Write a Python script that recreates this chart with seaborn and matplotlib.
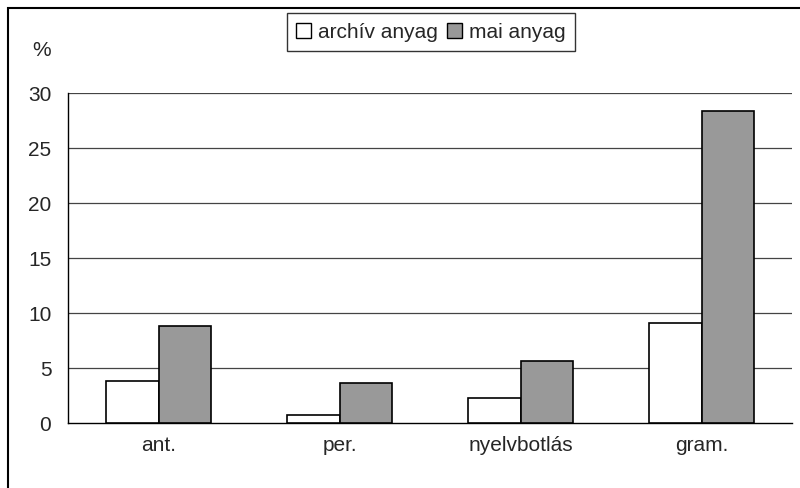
import matplotlib
matplotlib.use("Agg")
import matplotlib.pyplot as plt
import seaborn as sns
import pandas as pd
from matplotlib.patches import Patch, Rectangle

categories = ["ant.", "per.", "nyelvbotlás", "gram."]
series_names = ["archív anyag", "mai anyag"]
archiv = [3.8, 0.7, 2.3, 9.1]
mai = [8.8, 3.6, 5.6, 28.4]
yticks = [0, 5, 10, 15, 20, 25, 30]

df = pd.DataFrame({
    "cat": categories * 2,
    "val": archiv + mai,
    "series": [series_names[0]] * 4 + [series_names[1]] * 4,
})

sns.set_theme(style="white")
plt.rcParams["font.family"] = ["Liberation Sans", "DejaVu Sans"]
FS = 15

fig = plt.figure(figsize=(8, 4.89), dpi=100)
ax = fig.add_axes([68/800, 1-424/489, (792-68)/800, (424-94)/489])

colors = ["#ffffff", "#999999"]
sns.barplot(data=df, x="cat", y="val", hue="series", order=categories,
            hue_order=series_names, palette=colors, edgecolor="black",
            linewidth=1.2, width=0.58, gap=0, ax=ax, legend=False, zorder=3)

ax.set_ylim(0, 30)
ax.set_xlim(-0.5, 3.5)
ax.set_yticks(yticks)
ax.set_yticklabels([str(t) for t in yticks], fontsize=FS)
for t in yticks[1:]:
    ax.axhline(t, color="#444444", lw=0.9, zorder=1)

ax.set_xticks([-0.5, 0.5, 1.5, 2.5, 3.5])
ax.set_xticklabels([])
ax.set_xticks(range(len(categories)), minor=True)
ax.set_xticklabels(categories, minor=True, fontsize=FS)
ax.tick_params(axis="x", which="minor", length=0, pad=9)
ax.tick_params(axis="x", which="major", length=6, width=1, color="black", direction="out")
ax.tick_params(axis="y", length=6, width=1, color="black", direction="out", pad=6)
ax.set_xlabel("")
ax.set_ylabel("")

for s in ["top", "right"]:
    ax.spines[s].set_visible(False)
for s in ["left", "bottom"]:
    ax.spines[s].set_color("black")
    ax.spines[s].set_linewidth(1)

fig.text(42/800, 1-50/489, "%", fontsize=FS, ha="center", va="center")

handles = [Patch(facecolor=c, edgecolor="black", linewidth=1) for c in colors]
leg = fig.legend(handles, series_names, loc="center", bbox_to_anchor=(431/800, 1-33/489),
                 ncol=2, fontsize=FS, frameon=True, fancybox=False, edgecolor="black",
                 handlelength=0.7, handleheight=0.7, handletextpad=0.35,
                 columnspacing=0.45, borderpad=0.45, borderaxespad=0)
leg.get_frame().set_linewidth(1)

fig.patches.append(Rectangle((8/800, -0.1), 1.2, 1 - 9/489 + 0.1, transform=fig.transFigure,
                             fill=False, edgecolor="black", lw=1.5))

fig.savefig("out.png", dpi=100)
